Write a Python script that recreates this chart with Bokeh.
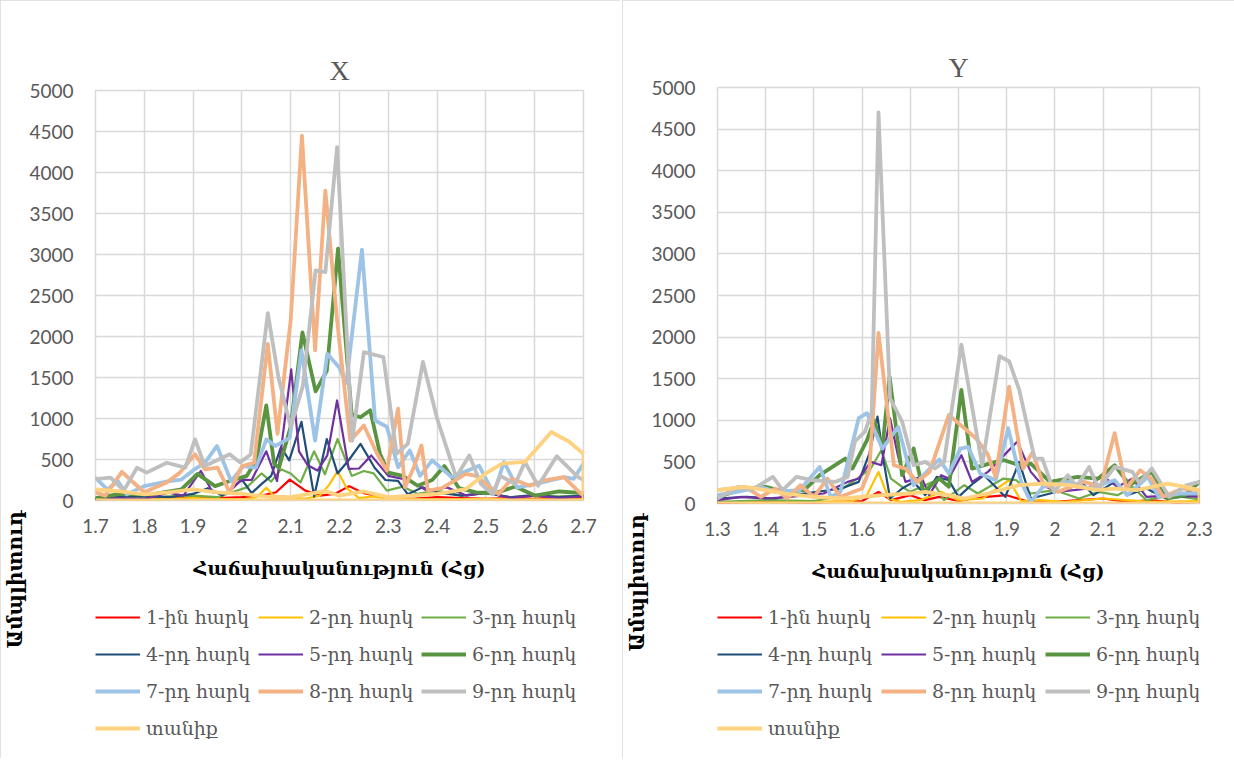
from bokeh.plotting import figure
from bokeh.models import Legend, LegendItem, Title, FixedTicker, Range1d, Spacer
from bokeh.layouts import row, column
from bokeh.embed import file_html
from bokeh.resources import INLINE

# ---------------- data ----------------
series_names = ["1-ին հարկ", "2-րդ հարկ", "3-րդ հարկ", "4-րդ հարկ", "5-րդ հարկ",
                "6-րդ հարկ", "7-րդ հարկ", "8-րդ հարկ", "9-րդ հարկ", "տանիք"]

x_ticks_X = [1.7, 1.8, 1.9, 2.0, 2.1, 2.2, 2.3, 2.4, 2.5, 2.6, 2.7]
x_labels_X = ["1.7", "1.8", "1.9", "2", "2.1", "2.2", "2.3", "2.4", "2.5", "2.6", "2.7"]
x_ticks_Y = [1.3, 1.4, 1.5, 1.6, 1.7, 1.8, 1.9, 2.0, 2.1, 2.2, 2.3]
x_labels_Y = ["1.3", "1.4", "1.5", "1.6", "1.7", "1.8", "1.9", "2", "2.1", "2.2", "2.3"]
y_ticks = [0, 500, 1000, 1500, 2000, 2500, 3000, 3500, 4000, 4500, 5000]

# ---- panel X ----
X1_f = [1.70, 1.75, 1.80, 1.85, 1.90, 1.95, 2.00, 2.04, 2.07, 2.098, 2.13, 2.16, 2.19, 2.22, 2.25, 2.29, 2.35, 2.40, 2.45, 2.50, 2.55, 2.60, 2.65, 2.70]
X1_a = [30, 20, 40, 25, 50, 30, 40, 60, 100, 255, 120, 60, 80, 175, 90, 40, 20, 40, 30, 20, 30, 20, 40, 30]
X2_f = [1.70, 1.80, 1.90, 1.95, 2.00, 2.03, 2.05, 2.07, 2.10, 2.13, 2.16, 2.18, 2.196, 2.215, 2.24, 2.27, 2.30, 2.40, 2.50, 2.60, 2.70]
X2_a = [20, 10, 30, 20, 10, 40, 155, 30, 40, 20, 60, 200, 360, 150, 30, 50, 20, 10, 20, 10, 15]
X3_f = [1.70, 1.75, 1.80, 1.85, 1.90, 1.95, 1.98, 2.01, 2.04, 2.06, 2.08, 2.10, 2.12, 2.148, 2.17, 2.196, 2.225, 2.25, 2.27, 2.297, 2.33, 2.36, 2.40, 2.45, 2.50, 2.55, 2.60, 2.65, 2.70]
X3_a = [20, 40, 30, 50, 60, 40, 100, 160, 330, 230, 380, 330, 220, 600, 320, 750, 300, 360, 330, 120, 170, 80, 120, 60, 90, 40, 60, 50, 60]
X4_f = [1.70, 1.75, 1.80, 1.85, 1.90, 1.93, 1.96, 2.00, 2.02, 2.04, 2.06, 2.08, 2.097, 2.122, 2.148, 2.174, 2.196, 2.22, 2.243, 2.272, 2.294, 2.32, 2.34, 2.37, 2.40, 2.45, 2.50, 2.55, 2.60, 2.65, 2.70]
X4_a = [20, 60, 50, 40, 80, 150, 60, 255, 90, 200, 300, 650, 490, 960, 50, 750, 330, 500, 690, 400, 250, 240, 75, 160, 100, 60, 90, 40, 70, 40, 60]
X5_f = [1.70, 1.75, 1.80, 1.85, 1.88, 1.916, 1.94, 1.97, 2.00, 2.02, 2.05, 2.072, 2.101, 2.117, 2.135, 2.155, 2.175, 2.195, 2.219, 2.24, 2.265, 2.30, 2.34, 2.38, 2.42, 2.46, 2.50, 2.55, 2.60, 2.65, 2.70]
X5_a = [10, 30, 20, 95, 60, 360, 100, 90, 255, 250, 600, 235, 1600, 600, 430, 365, 550, 1220, 385, 390, 550, 300, 250, 120, 160, 60, 100, 30, 60, 30, 50]
X6_f = [1.70, 1.75, 1.815, 1.876, 1.909, 1.945, 1.974, 2.01, 2.03, 2.05, 2.066, 2.076, 2.10, 2.124, 2.151, 2.174, 2.197, 2.225, 2.243, 2.263, 2.283, 2.30, 2.33, 2.36, 2.39, 2.415, 2.445, 2.48, 2.52, 2.56, 2.60, 2.65, 2.70]
X6_a = [30, 80, 75, 135, 325, 175, 235, 300, 500, 1160, 450, 400, 900, 2050, 1330, 1580, 3070, 1050, 1015, 1100, 570, 340, 300, 180, 250, 420, 150, 100, 90, 170, 60, 110, 90]
X7_f = [1.70, 1.724, 1.746, 1.764, 1.80, 1.851, 1.876, 1.903, 1.924, 1.949, 1.978, 2.003, 2.029, 2.05, 2.069, 2.098, 2.122, 2.15, 2.175, 2.199, 2.214, 2.246, 2.273, 2.297, 2.32, 2.344, 2.365, 2.39, 2.43, 2.486, 2.516, 2.537, 2.564, 2.60, 2.66, 2.68, 2.70]
X7_a = [275, 135, 235, 75, 175, 235, 255, 380, 460, 665, 235, 420, 400, 745, 665, 765, 1830, 730, 1790, 1625, 1435, 3060, 975, 900, 405, 610, 300, 490, 285, 425, 80, 470, 160, 200, 285, 265, 450]
X8_f = [1.70, 1.72, 1.754, 1.785, 1.80, 1.846, 1.873, 1.904, 1.924, 1.95, 1.975, 2.0, 2.025, 2.053, 2.073, 2.10, 2.123, 2.15, 2.171, 2.195, 2.222, 2.25, 2.277, 2.297, 2.32, 2.334, 2.352, 2.368, 2.381, 2.41, 2.459, 2.48, 2.526, 2.553, 2.59, 2.62, 2.66, 2.695, 2.70]
X8_a = [100, 60, 350, 180, 100, 220, 340, 565, 380, 400, 100, 420, 460, 1910, 813, 2200, 4450, 1830, 3780, 2200, 730, 915, 570, 365, 1120, 160, 400, 670, 120, 150, 325, 300, 80, 265, 180, 245, 285, 80, 100]
X9_f = [1.70, 1.731, 1.758, 1.785, 1.805, 1.846, 1.884, 1.904, 1.924, 1.975, 1.996, 2.018, 2.053, 2.075, 2.10, 2.125, 2.151, 2.171, 2.195, 2.226, 2.25, 2.29, 2.317, 2.34, 2.371, 2.40, 2.439, 2.466, 2.49, 2.513, 2.53, 2.56, 2.58, 2.607, 2.645, 2.689, 2.70]
X9_a = [260, 280, 120, 400, 340, 460, 400, 745, 420, 565, 465, 560, 2285, 1500, 895, 1400, 2805, 2785, 4310, 730, 1810, 1750, 570, 690, 1690, 1000, 285, 550, 200, 80, 300, 200, 470, 180, 540, 285, 250]
X10_f = [1.70, 1.75, 1.80, 1.85, 1.90, 1.95, 2.00, 2.05, 2.10, 2.17, 2.20, 2.25, 2.30, 2.35, 2.40, 2.459, 2.50, 2.533, 2.58, 2.634, 2.67, 2.70, 2.70, 1.70]
X10_a = [135, 110, 75, 100, 135, 100, 80, 50, 40, 115, 60, 110, 40, 60, 80, 140, 330, 450, 470, 835, 720, 570, 0, 0]

# ---- panel Y ----
Y1_f = [1.30, 1.40, 1.50, 1.60, 1.634, 1.66, 1.70, 1.73, 1.76, 1.80, 1.84, 1.90, 1.94, 2.00, 2.05, 2.10, 2.15, 2.20, 2.25, 2.30]
Y1_a = [10, 20, 10, 30, 140, 40, 100, 40, 80, 30, 70, 100, 30, 20, 40, 60, 20, 40, 10, 20]
Y2_f = [1.30, 1.40, 1.50, 1.58, 1.61, 1.634, 1.655, 1.68, 1.72, 1.764, 1.80, 1.85, 1.905, 1.93, 1.97, 2.02, 2.10, 2.20, 2.30]
Y2_a = [20, 10, 20, 30, 100, 380, 60, 20, 40, 140, 40, 60, 280, 30, 40, 20, 60, 20, 30]
Y3_f = [1.30, 1.40, 1.50, 1.53, 1.57, 1.59, 1.618, 1.64, 1.66, 1.683, 1.70, 1.747, 1.77, 1.812, 1.84, 1.893, 1.92, 1.95, 2.00, 2.05, 2.09, 2.13, 2.161, 2.19, 2.24, 2.30]
Y3_a = [20, 40, 30, 60, 220, 300, 420, 640, 300, 200, 140, 260, 40, 220, 120, 300, 280, 120, 160, 60, 140, 100, 200, 40, 100, 50]
Y4_f = [1.30, 1.36, 1.42, 1.48, 1.557, 1.593, 1.615, 1.632, 1.645, 1.658, 1.683, 1.707, 1.731, 1.755, 1.78, 1.80, 1.83, 1.853, 1.897, 1.926, 1.95, 1.99, 2.03, 2.055, 2.08, 2.124, 2.15, 2.19, 2.23, 2.30]
Y4_a = [60, 80, 60, 120, 180, 260, 600, 1045, 500, 60, 180, 260, 100, 320, 280, 80, 240, 340, 80, 500, 60, 120, 180, 260, 100, 260, 100, 180, 60, 100]
Y5_f = [1.30, 1.35, 1.40, 1.45, 1.52, 1.57, 1.593, 1.618, 1.64, 1.658, 1.675, 1.69, 1.723, 1.739, 1.764, 1.78, 1.806, 1.828, 1.861, 1.922, 1.95, 1.974, 2.006, 2.07, 2.096, 2.13, 2.161, 2.19, 2.25, 2.30]
Y5_a = [40, 80, 60, 80, 120, 260, 300, 500, 460, 1025, 560, 260, 320, 100, 340, 300, 580, 260, 380, 745, 380, 220, 140, 180, 340, 200, 300, 80, 100, 80]
Y6_f = [1.30, 1.358, 1.40, 1.44, 1.48, 1.512, 1.565, 1.58, 1.61, 1.625, 1.642, 1.657, 1.683, 1.707, 1.727, 1.76, 1.78, 1.806, 1.828, 1.877, 1.895, 1.926, 1.95, 1.99, 2.047, 2.09, 2.124, 2.155, 2.201, 2.234, 2.27, 2.30]
Y6_a = [80, 180, 200, 140, 160, 340, 540, 420, 760, 1000, 660, 1525, 340, 660, 140, 300, 200, 1365, 420, 500, 520, 460, 480, 260, 320, 300, 460, 220, 380, 60, 100, 260]
Y7_f = [1.30, 1.34, 1.39, 1.42, 1.47, 1.512, 1.535, 1.555, 1.593, 1.61, 1.642, 1.675, 1.707, 1.747, 1.76, 1.78, 1.804, 1.82, 1.845, 1.877, 1.903, 1.93, 1.95, 1.975, 2.03, 2.07, 2.124, 2.15, 2.193, 2.215, 2.26, 2.30]
Y7_a = [100, 140, 200, 140, 160, 440, 80, 140, 1025, 1085, 660, 920, 220, 460, 530, 360, 660, 680, 360, 280, 905, 260, 20, 200, 260, 180, 280, 100, 320, 80, 120, 120]
Y8_f = [1.30, 1.358, 1.39, 1.42, 1.445, 1.472, 1.50, 1.528, 1.555, 1.60, 1.615, 1.634, 1.666, 1.69, 1.715, 1.74, 1.78, 1.804, 1.836, 1.86, 1.877, 1.905, 1.934, 1.954, 1.974, 2.006, 2.06, 2.095, 2.124, 2.148, 2.177, 2.20, 2.225, 2.265, 2.30]
Y8_a = [160, 200, 80, 180, 60, 220, 80, 300, 80, 180, 400, 2050, 460, 420, 260, 380, 1065, 945, 785, 600, 320, 1405, 420, 620, 260, 140, 260, 200, 845, 180, 400, 300, 80, 180, 160]
Y9_f = [1.30, 1.342, 1.37, 1.415, 1.435, 1.464, 1.496, 1.545, 1.57, 1.585, 1.606, 1.62, 1.634, 1.658, 1.683, 1.707, 1.731, 1.751, 1.77, 1.806, 1.849, 1.885, 1.905, 1.926, 1.958, 1.974, 1.998, 2.027, 2.045, 2.071, 2.09, 2.124, 2.161, 2.175, 2.201, 2.237, 2.274, 2.30]
Y9_a = [60, 200, 160, 320, 160, 320, 280, 260, 320, 745, 865, 1100, 4700, 1265, 985, 460, 500, 420, 500, 1910, 460, 1770, 1710, 1365, 540, 540, 140, 340, 200, 440, 180, 440, 380, 250, 420, 80, 220, 260]
Y10_f = [1.30, 1.358, 1.40, 1.44, 1.50, 1.56, 1.642, 1.70, 1.731, 1.78, 1.812, 1.86, 1.926, 1.974, 2.03, 2.088, 2.124, 2.17, 2.234, 2.27, 2.30, 2.30, 1.30]
Y10_a = [160, 200, 160, 120, 80, 60, 100, 120, 140, 100, 60, 120, 220, 240, 220, 160, 180, 160, 240, 200, 160, 0, 0]

X_series = [(X1_f, X1_a), (X2_f, X2_a), (X3_f, X3_a), (X4_f, X4_a), (X5_f, X5_a),
            (X6_f, X6_a), (X7_f, X7_a), (X8_f, X8_a), (X9_f, X9_a), (X10_f, X10_a)]
Y_series = [(Y1_f, Y1_a), (Y2_f, Y2_a), (Y3_f, Y3_a), (Y4_f, Y4_a), (Y5_f, Y5_a),
            (Y6_f, Y6_a), (Y7_f, Y7_a), (Y8_f, Y8_a), (Y9_f, Y9_a), (Y10_f, Y10_a)]

# ---------------- styles ----------------
colors = ["#FF0000", "#FFC000", "#70AD47", "#1F4E79", "#7030A0",
          "#5A9440", "#9DC3E6", "#F4B183", "#BFBFBF", "#FFD27F"]
widths = [2.2, 2.2, 2.2, 2.2, 2.2, 3.8, 3.8, 3.8, 3.8, 3.8]
GRID = "#d9d9d9"
TXT = "#595959"
H = 758
LEG_H = 170


def make_panel(title, series, xt, xl, width, mb_left, mb_right, mb_top, mb_bottom,
               title_off, leg_label_w):
    p = figure(width=width, height=H, output_backend="svg", toolbar_location=None,
               x_range=Range1d(xt[0], xt[-1]), y_range=Range1d(0, 5000),
               min_border_left=mb_left, min_border_right=mb_right,
               min_border_top=mb_top, min_border_bottom=mb_bottom,
               background_fill_color="white", border_fill_color="white")
    p.styles = {"outline": "1px solid #d9d9d9", "outline-offset": "-1px"}
    # blank spacer title next to the frame, real title above it
    p.title.text = " "
    p.title.text_font_size = "10px"
    p.add_layout(Title(text=title, align="center", offset=title_off,
                       text_font="Liberation Serif", text_font_size="28px",
                       text_font_style="normal", text_color=TXT), "above")
    p.outline_line_color = GRID
    p.outline_line_width = 1.5
    p.grid.grid_line_color = GRID
    p.grid.grid_line_width = 1.5
    p.xgrid.ticker = FixedTicker(ticks=xt)
    p.ygrid.ticker = FixedTicker(ticks=y_ticks)

    p.xaxis.ticker = FixedTicker(ticks=xt)
    p.xaxis.major_label_overrides = {t: l for t, l in zip(xt, xl)}
    p.yaxis.ticker = FixedTicker(ticks=y_ticks)
    for ax in (p.xaxis, p.yaxis):
        ax.axis_line_color = None
        ax.major_tick_line_color = None
        ax.minor_tick_line_color = None
        ax.major_label_text_font = "Lato"
        ax.major_label_text_font_size = "19px"
        ax.major_label_text_color = TXT
    p.yaxis.major_label_standoff = 16
    p.xaxis.major_label_standoff = 12
    p.xaxis.axis_label = "Հաճախականություն (Հց)"
    p.xaxis.axis_label_text_font = "DejaVu Serif"
    p.xaxis.axis_label_text_font_style = "bold"
    p.xaxis.axis_label_text_font_size = "19px"
    p.xaxis.axis_label_text_color = "black"
    p.xaxis.axis_label_standoff = 21

    for (f, a), c, w in zip(series, colors, widths):
        p.line(f, a, line_color=c, line_width=w, line_join="round", line_cap="round")

    ylab = Title(text="Ամպլիտուդ", align="left", offset=-148, standoff=0,
                 text_font="DejaVu Serif", text_font_style="bold",
                 text_font_size="20px", text_color="black")
    p.add_layout(ylab, "left")

    # transparent legend strip laid over the lower part of the chart box
    q = figure(width=width, height=LEG_H, output_backend="svg", toolbar_location=None,
               x_range=Range1d(0, 1), y_range=Range1d(0, 1),
               x_axis_type=None, y_axis_type=None,
               min_border=0, min_border_left=0, min_border_right=0,
               min_border_top=0, min_border_bottom=0,
               background_fill_color=None, border_fill_color=None,
               outline_line_color=None)
    q.margin = (-LEG_H, 0, 0, 0)
    items = []
    for (f, a), name, c, w in zip(series, series_names, colors, widths):
        r = q.line(f, a, line_color=c, line_width=w)   # off-range: only feeds the legend
        items.append(LegendItem(label=name, renderers=[r]))
    legend = Legend(items=items, orientation="horizontal", ncols=3,
                    location=(0, 12),
                    glyph_width=45, glyph_height=20, label_standoff=6,
                    spacing=0, padding=0, margin=0,
                    label_text_font="DejaVu Serif", label_text_font_size="19px",
                    label_text_color=TXT, label_height=37, label_width=leg_label_w,
                    border_line_color=None, background_fill_alpha=0)
    q.add_layout(legend)
    return column(p, q)


pX = make_panel("X", X_series, x_ticks_X, x_labels_X, 620, 92, 37, 90, 258, -26, 112)
pY = make_panel("Y", Y_series, x_ticks_Y, x_labels_Y, 612, 84, 35, 87, 255, -22, 113)

layout = row(pX, Spacer(width=2), pY)
open("out.html", "w").write(file_html(layout, INLINE))
